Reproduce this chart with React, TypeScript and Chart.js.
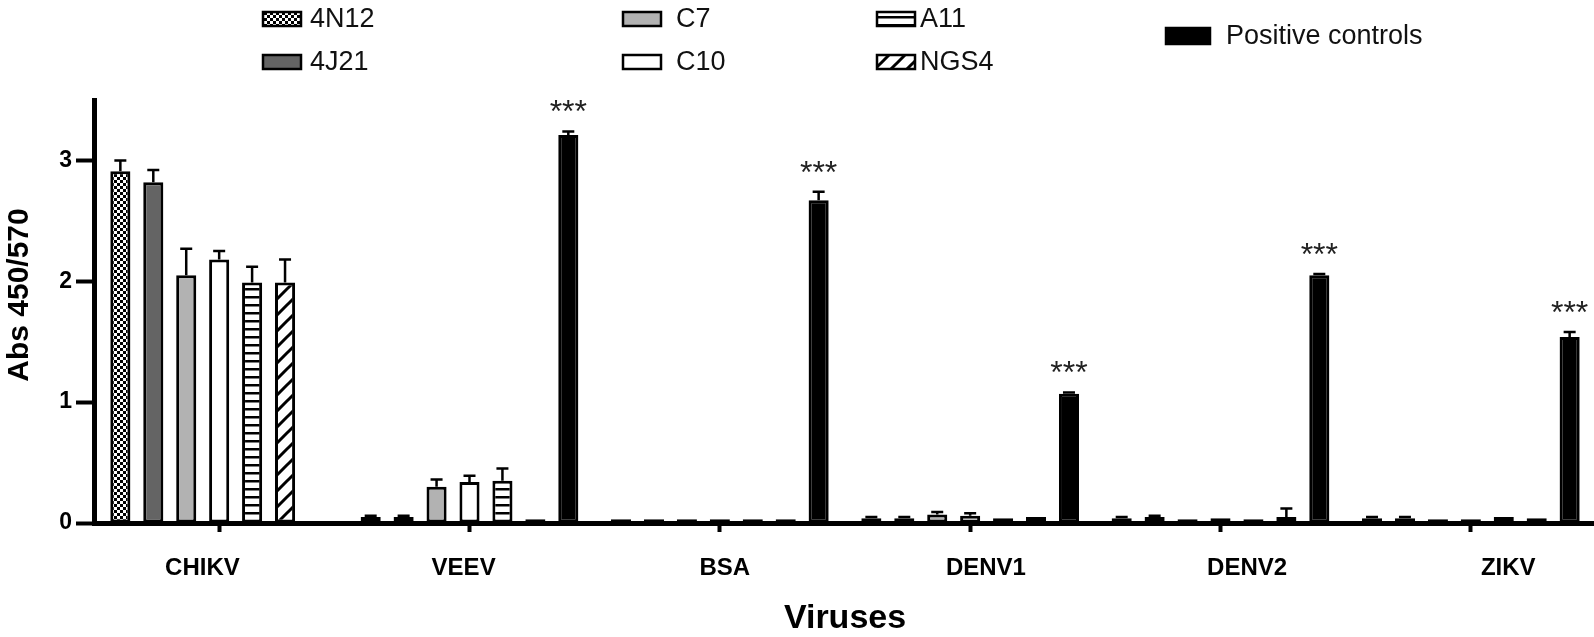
import React, { useEffect, useRef } from "react";
import { Chart, registerables } from "chart.js";

Chart.register(...registerables);

// ---------- data ----------
const categories = ["CHIKV", "VEEV", "BSA", "DENV1", "DENV2", "ZIKV"];
const seriesNames = ["4N12", "4J21", "C7", "C10", "A11", "NGS4", "Positive controls"];

const v4N12 = [2.91, 0.05, 0.03, 0.04, 0.04, 0.04];
const v4J21 = [2.82, 0.05, 0.03, 0.04, 0.05, 0.04];
const vC7 = [2.05, 0.30, 0.03, 0.07, 0.03, 0.03];
const vC10 = [2.18, 0.34, 0.03, 0.06, 0.04, 0.03];
const vA11 = [1.99, 0.35, 0.03, 0.04, 0.03, 0.05];
const vNGS4 = [1.99, 0.03, 0.03, 0.05, 0.05, 0.04];
const vPositive = [null, 3.21, 2.67, 1.07, 2.05, 1.54];

const e4N12 = [0.09, 0.01, 0, 0.01, 0.01, 0.01];
const e4J21 = [0.10, 0.01, 0, 0.01, 0.01, 0.01];
const eC7 = [0.22, 0.06, 0, 0.02, 0, 0];
const eC10 = [0.07, 0.05, 0, 0.02, 0, 0];
const eA11 = [0.13, 0.10, 0, 0, 0, 0];
const eNGS4 = [0.19, 0, 0, 0, 0.07, 0];
const ePositive = [0, 0.03, 0.07, 0.01, 0.01, 0.04];

const significance = ["", "***", "***", "***", "***", "***"];
const yTicks = [0, 1, 2, 3];
const labelSlots = [0, 1, 2, 3, 4, 5];
const labelAxisMin = -0.4153;
const labelAxisMax = 5.336;
const yTitle = "Abs 450/570";
const xTitle = "Viruses";

const FONT = "'Liberation Sans', Arial, Helvetica, sans-serif";

function makePattern(kind: string): CanvasPattern | string {
  const c = document.createElement("canvas");
  const g = c.getContext("2d");
  if (!g) return "#fff";
  if (kind === "checker") {
    c.width = 6; c.height = 6;
    g.fillStyle = "#fff"; g.fillRect(0, 0, 6, 6);
    g.fillStyle = "#000"; g.fillRect(0, 0, 3, 3); g.fillRect(3, 3, 3, 3);
  } else if (kind === "hstripe") {
    c.width = 4; c.height = 8;
    g.fillStyle = "#fff"; g.fillRect(0, 0, 4, 8);
    g.fillStyle = "#000"; g.fillRect(0, 0, 4, 2.5);
  } else {
    c.width = 16; c.height = 16;
    g.fillStyle = "#fff"; g.fillRect(0, 0, 16, 16);
    g.strokeStyle = "#000"; g.lineWidth = 3;
    g.beginPath();
    g.moveTo(-2, 18); g.lineTo(18, -2);
    g.moveTo(-2, 2); g.lineTo(2, -2);
    g.moveTo(14, 18); g.lineTo(18, 14);
    g.stroke();
  }
  return g.createPattern(c, "repeat") || "#fff";
}

const errorBarPlugin = {
  id: "errorBars",
  afterDatasetsDraw(chart: any) {
    const ctx = chart.ctx;
    const y = chart.scales.y;
    chart.data.datasets.forEach((ds: any, di: number) => {
      const meta = chart.getDatasetMeta(di);
      meta.data.forEach((el: any, i: number) => {
        const v = ds.data[i];
        const e = ds.errors ? ds.errors[i] : 0;
        if (v == null || !e) return;
        const top = y.getPixelForValue(v + e);
        ctx.save();
        ctx.strokeStyle = "#000";
        ctx.lineWidth = 2.5;
        ctx.beginPath();
        ctx.moveTo(el.x, el.y);
        ctx.lineTo(el.x, top);
        ctx.moveTo(el.x - 6, top);
        ctx.lineTo(el.x + 6, top);
        ctx.stroke();
        ctx.restore();
      });
    });
    const pi = chart.data.datasets.length - 1;
    const pds = chart.data.datasets[pi];
    const pmeta = chart.getDatasetMeta(pi);
    pmeta.data.forEach((el: any, i: number) => {
      const v = pds.data[i];
      if (v == null || !significance[i]) return;
      const top = y.getPixelForValue(v + (pds.errors[i] || 0));
      ctx.save();
      ctx.fillStyle = "#222";
      ctx.font = `32px ${FONT}`;
      ctx.textAlign = "center";
      ctx.textBaseline = "alphabetic";
      ctx.fillText(significance[i], el.x, top - 9);
      ctx.restore();
    });
  },
};

const legendPlugin = {
  id: "customLegend",
  afterDraw(chart: any) {
    const ctx = chart.ctx;
    const ds = chart.data.datasets;
    const spots = [
      { bx: 263, cy: 19, w: 38, h: 14, tx: 310 },
      { bx: 263, cy: 62, w: 38, h: 14, tx: 310 },
      { bx: 623, cy: 19, w: 38, h: 14, tx: 676 },
      { bx: 623, cy: 62, w: 38, h: 14, tx: 676 },
      { bx: 877, cy: 19, w: 38, h: 14, tx: 920 },
      { bx: 877, cy: 62, w: 38, h: 14, tx: 920 },
      { bx: 1166, cy: 36, w: 44, h: 16, tx: 1226 },
    ];
    ds.forEach((d: any, i: number) => {
      const s = spots[i];
      ctx.save();
      ctx.fillStyle = d.backgroundColor;
      ctx.fillRect(s.bx, s.cy - s.h / 2, s.w, s.h);
      ctx.strokeStyle = "#000";
      ctx.lineWidth = 2.5;
      ctx.strokeRect(s.bx, s.cy - s.h / 2, s.w, s.h);
      ctx.fillStyle = "#111";
      ctx.font = `27px ${FONT}`;
      ctx.textAlign = "left";
      ctx.textBaseline = "middle";
      ctx.fillText(d.label, s.tx, s.cy + 1);
      ctx.restore();
    });
    ctx.save();
    ctx.translate(20, 295);
    ctx.rotate(-Math.PI / 2);
    ctx.fillStyle = "#000";
    ctx.font = `bold 30px ${FONT}`;
    ctx.textAlign = "center";
    ctx.textBaseline = "middle";
    ctx.fillText(yTitle, 0, 0);
    ctx.restore();
  },
};

export default function App() {
  const ref = useRef<HTMLCanvasElement | null>(null);
  useEffect(() => {
    if (!ref.current) return;
    const fills = [
      makePattern("checker"),
      "#646464",
      "#b2b2b2",
      "#ffffff",
      makePattern("hstripe"),
      makePattern("diag"),
      "#000000",
    ];
    const values = [v4N12, v4J21, vC7, vC10, vA11, vNGS4, vPositive];
    const errors = [e4N12, e4J21, eC7, eC10, eA11, eNGS4, ePositive];
    const chart = new Chart(ref.current, {
      type: "bar",
      data: {
        labels: categories,
        datasets: seriesNames.map((name, i) => ({
          label: name,
          data: values[i] as any,
          errors: errors[i],
          backgroundColor: fills[i] as any,
          borderColor: "#000",
          borderWidth: 3,
          borderSkipped: false,
          categoryPercentage: 0.921,
          barPercentage: 0.61,
        })) as any,
      },
      options: {
        responsive: false,
        animation: false,
        layout: { padding: { top: 100, right: 4, left: 0, bottom: 0 } },
        plugins: { legend: { display: false }, tooltip: { enabled: false } },
        scales: {
          x: {
            type: "category",
            offset: true,
            weight: 0,
            grid: {
              display: true,
              drawOnChartArea: false,
              offset: false,
              tickLength: 9,
              tickWidth: 4,
              tickColor: "#000",
            },
            border: { display: true, color: "#000", width: 5 },
            ticks: { display: false },
            afterFit: (s: any) => { s.height = 10; },
          } as any,
          xl: {
            type: "linear",
            position: "bottom",
            weight: 1,
            offset: false,
            bounds: "data",
            min: labelAxisMin,
            max: labelAxisMax,
            grid: { display: false, drawTicks: false, offset: false },
            border: { display: false },
            afterBuildTicks: (s: any) => {
              s.min = labelAxisMin;
              s.max = labelAxisMax;
              s.ticks = labelSlots.map((v) => ({ value: v }));
            },
            ticks: {
              color: "#000",
              font: { family: FONT, size: 24, weight: "bold" },
              padding: 21,
              autoSkip: false,
              maxRotation: 0,
              callback: (v: any) => categories[v] ?? "",
            },
            title: {
              display: true,
              text: xTitle,
              color: "#000",
              font: { family: FONT, size: 34, weight: "bold", lineHeight: 1.1 },
              padding: { top: 0, bottom: 0 },
            },
            afterFit: (s: any) => { s.height = 104; },
          } as any,
          y: {
            min: 0,
            max: 3.5,
            ticks: { stepSize: 1, color: "#000", font: { family: FONT, size: 23, weight: "bold" }, padding: 4 },
            afterBuildTicks: (s: any) => { s.ticks = yTicks.map((v) => ({ value: v })); },
            grid: { drawOnChartArea: false, tickLength: 18, tickWidth: 4, tickColor: "#000" },
            border: { display: true, color: "#000", width: 5 },
            afterFit: (s: any) => { s.width = 94; },
          } as any,
        },
      },
      plugins: [errorBarPlugin, legendPlugin],
    });
    return () => chart.destroy();
  }, []);
  return (
    <div style={{ position: "absolute", left: 0, top: 0, width: 1594, height: 637, overflow: "hidden", background: "#fff" }}>
      <canvas ref={ref} width={1600} height={637} style={{ width: 1600, height: 637, display: "block" }} />
    </div>
  );
}
